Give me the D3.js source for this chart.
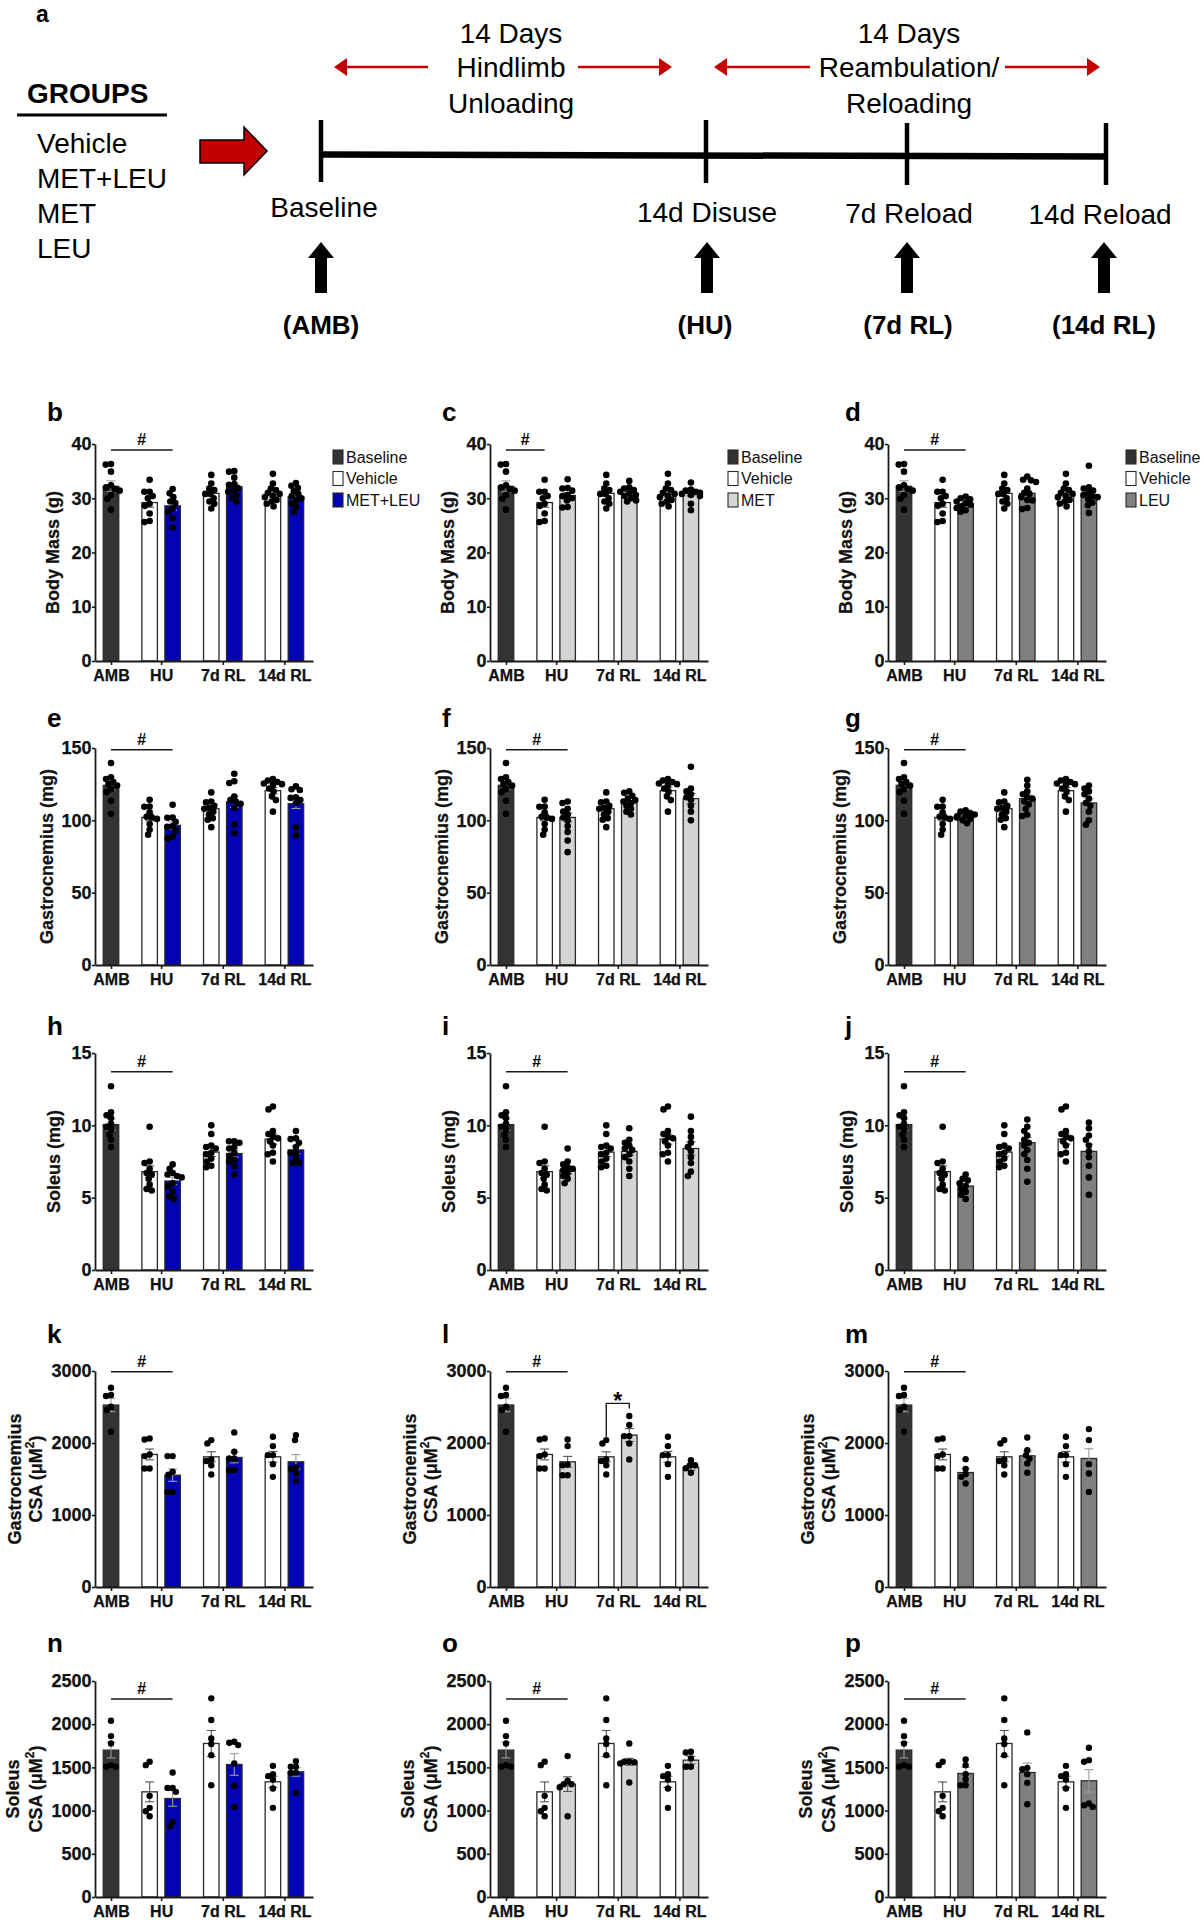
<!DOCTYPE html>
<html><head><meta charset="utf-8">
<script src="https://cdn.jsdelivr.net/npm/d3@7"></script>
<style>
body{margin:0;background:#fff}
svg{display:block}
text{font-family:"Liberation Sans",Arial,Helvetica,sans-serif}
</style>
</head><body>
<svg id="fig" width="1204" height="1920"></svg>
<script>
// ---------------- DATA ----------------
const categories = ["AMB", "HU", "7d RL", "14d RL"];
const legendLabels = [["Baseline","Vehicle","MET+LEU"],["Baseline","Vehicle","MET"],["Baseline","Vehicle","LEU"]];
const panelLetters = ["b","c","d","e","f","g","h","i","j","k","l","m","n","o","p"];
const yTicks = [[0,10,20,30,40],[0,50,100,150],[0,5,10,15],[0,1000,2000,3000],[0,500,1000,1500,2000,2500]];
const yTitles = [["Body Mass (g)"],["Gastrocnemius (mg)"],["Soleus (mg)"],["Gastrocnemius","CSA (μM|2|)"],["Soleus","CSA (μM|2|)"]];

// schematic (panel a)
const groupNames = ["Vehicle","MET+LEU","MET","LEU"];
const timepointDays = [0, 14, 21, 28];
const timepointLabels = ["Baseline","14d Disuse","7d Reload","14d Reload"];
const timepointCodes = ["(AMB)","(HU)","(7d RL)","(14d RL)"];
const phaseLabels = [["14 Days","Hindlimb","Unloading"],["14 Days","Reambulation/","Reloading"]];

// Body mass (g)
const bmBaselineMean = [32.2], bmBaselineSem = [1.0];
const bmBaselineDots = [[36.3,36.2,34.9,32.4,32.0,31.7,31.4,30.6,29.9,27.9]];
const bmVehicleMean = [29.2,30.9,30.7], bmVehicleSem = [0.85,0.5,0.45];
const bmVehicleDots = [[33.4,31.2,31.2,30.4,30.0,29.0,28.6,27.2,25.8,25.6],[34.3,32.7,31.8,31.5,30.8,30.8,30.0,29.4,29.0,28.1],[34.5,32.7,31.8,31.5,31.0,30.8,30.4,30.2,29.7,29.4,29.0,28.5]];
const bmMetLeuMean = [28.6,32.1,30.3], bmMetLeuSem = [0.8,0.55,0.55];
const bmMetLeuDots = [[31.7,30.9,30.2,29.4,29.1,28.1,27.5,26.3,24.6],[35.0,34.9,33.8,32.6,32.5,31.9,31.4,31.2,30.6,30.0,29.4],[32.8,32.3,31.9,31.3,30.8,30.4,30.0,29.6,29.0,28.4,27.5]];
const bmMetMean = [30.5,30.9,30.9], bmMetSem = [0.5,0.35,0.45];
const bmMetDots = [[33.5,31.9,31.8,31.4,30.6,30.4,30.0,29.6,28.4,28.3],[33.2,32.0,31.8,31.5,31.2,30.9,30.6,30.4,30.0,29.6,29.4],[32.9,31.6,31.4,31.2,31.0,30.8,30.6,30.4,29.0,27.8]];
const bmLeuMean = [28.9,30.9,30.6], bmLeuSem = [0.3,0.55,0.45];
const bmLeuDots = [[30.3,30.0,29.8,29.4,29.1,28.8,28.5,28.2,27.8,27.5],[34.0,33.4,33.3,33.0,31.8,31.0,30.8,30.2,29.7,29.6,28.2,28.0],[36.0,32.0,31.8,31.4,31.0,30.6,30.4,30.2,29.8,29.2,28.7,27.3]];

// Gastrocnemius (mg)
const gmBaselineMean = [124.2], gmBaselineSem = [3.0];
const gmBaselineDots = [[139.6,129.8,128.5,126.5,125.0,124.0,121.5,119.5,113.5,104.5]];
const gmVehicleMean = [102,108,120.5], gmVehicleSem = [2.3,2.0,2.3];
const gmVehicleDots = [[114.2,109.6,109.4,105.5,102.5,102.0,101.0,97.5,93.5,90.0],[119.3,113.0,112.4,110.0,108.5,108.0,106.0,104.0,101.5,100.4,95.3],[128.5,127.5,126.5,125.5,125.0,124.5,122.0,120.0,116.5,114.0,106.0]];
const gmMetLeuMean = [96.5,112.8,111.5], gmMetLeuSem = [2.5,3.8,3.3];
const gmMetLeuDots = [[110.8,102.0,101.8,99.0,96.0,95.5,93.0,88.8,87.5],[132.2,127.0,125.8,116.5,114.0,113.0,111.5,108.5,97.0,91.2],[123.5,121.5,121.0,116.0,115.5,114.0,112.0,95.0,89.5]];
const gmMetMean = [102,112,115], gmMetSem = [3.0,1.5,3.5];
const gmMetDots = [[113,112,108,106,104,102,100,96,92,86,78],[120,119,117,115,114,113,112,110,108,106,104],[137,122,120,118,116,114,110,106,100]];
const gmLeuMean = [103,115,112], gmLeuSem = [1.0,2.5,3.0];
const gmLeuDots = [[107,106,105,104,103,103,102,101,100,98],[128,124,120,118,116,115,113,111,108,104,103],[124,122,120,118,115,112,110,106,100,97]];

// Soleus (mg)
const smBaselineMean = [10.05], smBaselineSem = [0.4];
const smBaselineDots = [[12.7,10.9,10.7,10.5,10.1,9.9,9.7,9.35,9.0,8.5]];
const smVehicleMean = [6.8,8.15,9.05], smVehicleSem = [0.4,0.3,0.35];
const smVehicleDots = [[9.9,7.5,7.4,7.0,6.7,6.6,6.3,5.9,5.6,5.5],[10.0,9.4,8.6,8.5,8.4,8.1,8.0,7.7,7.5,7.2,7.1],[11.3,11.1,9.6,9.4,9.2,9.1,8.9,8.6,8.1,8.0,7.5]];
const smMetLeuMean = [6.15,8.05,8.3], smMetLeuSem = [0.25,0.25,0.25];
const smMetLeuDots = [[7.3,7.0,6.7,6.6,6.5,6.4,6.0,5.8,5.4,5.1,4.9],[8.9,8.9,8.8,8.5,8.4,8.1,7.9,7.6,7.5,7.15,6.6],[9.6,9.1,9.05,8.8,8.5,8.1,8.1,7.7,7.4,7.4]];
const smMetMean = [6.9,8.2,8.4], smMetSem = [0.25,0.3,0.45];
const smMetDots = [[8.4,7.5,7.3,7.1,7.0,6.9,6.7,6.5,6.3,6.0],[9.8,9.0,8.8,8.6,8.4,8.3,8.0,7.8,7.5,7.0,6.5],[10.6,9.6,9.2,8.8,8.5,8.2,7.8,7.4,6.8,6.5]];
const smLeuMean = [5.8,8.8,8.2], smLeuSem = [0.2,0.35,0.5];
const smLeuDots = [[6.6,6.3,6.2,6.0,5.8,5.6,5.4,5.2,4.9],[10.4,9.9,9.6,9.3,9.0,8.8,8.6,8.3,8.0,7.6,7.0,6.1],[10.2,9.8,9.3,9.0,8.6,8.2,7.8,7.2,6.4,5.2]];

// Gastrocnemius CSA (μM²)
const gcBaselineMean = [2527], gcBaselineSem = [93];
const gcBaselineDots = [[2768,2666,2652,2504,2460,2156]];
const gcVehicleMean = [1841,1808,1808], gcVehicleSem = [75,70,75];
const gcVehicleDots = [[2063,2049,1818,1840,1646,1646],[2040,1994,1771,1750,1692,1563],[2087,1957,1832,1832,1706,1530]];
const gcMetLeuMean = [1553,1799,1739], gcMetLeuSem = [85,75,100];
const gcMetLeuDots = [[1818,1818,1600,1560,1321,1321],[2147,1878,1785,1785,1623,1623],[2110,2040,1660,1640,1576,1474]];
const gcMetMean = [1739,2110,1660], gcMetSem = [75,90,40];
const gcMetDots = [[2049,1957,1700,1690,1553,1553],[2374,2249,2096,2096,1994,1771],[1762,1692,1692,1650,1586]];
const gcLeuMean = [1590,1822,1785], gcLeuSem = [60,65,135];
const gcLeuDots = [[1776,1640,1567,1530,1437],[2077,1901,1832,1780,1716,1586],[2193,2040,1706,1576,1321]];

// Soleus CSA (μM²)
const scBaselineMean = [1700], scBaselineSem = [90];
const scBaselineDots = [[2040,1862,1777,1526,1507,1507]];
const scVehicleMean = [1217,1777,1333], scVehicleSem = [115,150,65];
const scVehicleDots = [[1565,1526,1171,1032,993,935],[2299,2048,1835,1770,1642,1294],[1518,1422,1399,1360,1256,1032]];
const scMetLeuMean = [1140,1534,1449], scMetLeuSem = [90,125,50];
const scMetLeuDots = [[1441,1263,1263,1217,869,819],[1797,1785,1758,1545,1287,1043],[1573,1507,1507,1437,1440,1205]];
const scMetMean = [1306,1565,1584], scMetSem = [85,40,45];
const scMetDots = [[1631,1345,1306,1306,1270,935],[1777,1565,1565,1560,1545,1325],[1681,1673,1603,1507,1507]];
const scLeuMean = [1430,1441,1345], scLeuSem = [70,110,130];
const scLeuDots = [[1592,1526,1420,1360,1294,1294],[1905,1495,1480,1422,1321,1074],[1727,1584,1565,1082,1062,1043]];

// significance markers
const hashLevel = [38.9, 148.8, 13.7, 2991, 2291];
const hashEndBar = [2,1,2, 2,2,2, 2,2,2, 2,2,2, 2,2,2];
const starBracket = [2550, 2087, 2480];

// ---------------- BUILD ----------------
const measures = [
  {base:[bmBaselineMean,bmBaselineSem,bmBaselineDots], veh:[bmVehicleMean,bmVehicleSem,bmVehicleDots],
   trt:[[bmMetLeuMean,bmMetLeuSem,bmMetLeuDots],[bmMetMean,bmMetSem,bmMetDots],[bmLeuMean,bmLeuSem,bmLeuDots]]},
  {base:[gmBaselineMean,gmBaselineSem,gmBaselineDots], veh:[gmVehicleMean,gmVehicleSem,gmVehicleDots],
   trt:[[gmMetLeuMean,gmMetLeuSem,gmMetLeuDots],[gmMetMean,gmMetSem,gmMetDots],[gmLeuMean,gmLeuSem,gmLeuDots]]},
  {base:[smBaselineMean,smBaselineSem,smBaselineDots], veh:[smVehicleMean,smVehicleSem,smVehicleDots],
   trt:[[smMetLeuMean,smMetLeuSem,smMetLeuDots],[smMetMean,smMetSem,smMetDots],[smLeuMean,smLeuSem,smLeuDots]]},
  {base:[gcBaselineMean,gcBaselineSem,gcBaselineDots], veh:[gcVehicleMean,gcVehicleSem,gcVehicleDots],
   trt:[[gcMetLeuMean,gcMetLeuSem,gcMetLeuDots],[gcMetMean,gcMetSem,gcMetDots],[gcLeuMean,gcLeuSem,gcLeuDots]]},
  {base:[scBaselineMean,scBaselineSem,scBaselineDots], veh:[scVehicleMean,scVehicleSem,scVehicleDots],
   trt:[[scMetLeuMean,scMetLeuSem,scMetLeuDots],[scMetMean,scMetSem,scMetDots],[scLeuMean,scLeuSem,scLeuDots]]}
];

const COLORS = {base:"#333333", veh:"#ffffff", trt:["#0303b3","#d4d4d4","#808080"]};
const svg = d3.select("#fig");

// ---------------- PANEL A ----------------
(function(){
  const g = svg.append("g");
  g.append("text").attr("x",36).attr("y",22).attr("font-size",23).attr("font-weight","bold").text("a");
  g.append("text").attr("x",27).attr("y",103).attr("font-size",28).attr("font-weight","bold").text("GROUPS");
  g.append("line").attr("x1",17).attr("x2",167).attr("y1",115).attr("y2",115).attr("stroke","#000").attr("stroke-width",3);
  g.selectAll("text.grp").data(groupNames).join("text").attr("class","grp")
    .attr("x",37).attr("y",(d,i)=>153+i*35).attr("font-size",28).text(d=>d);
  g.append("polygon").attr("points","200,140 244,140 244,127 267,151 244,175 244,163 200,163")
    .attr("fill","#c00000").attr("stroke","#000").attr("stroke-width",1.5);

  const t = d3.scaleLinear().domain(timepointDays).range([321,706,907,1106]);
  g.append("line").attr("x1",t(0)).attr("x2",t(28)).attr("y1",154.5).attr("y2",156.5)
    .attr("stroke","#000").attr("stroke-width",6.5);
  const tickTop = [120,120,123,123], tickBot = [182,183,185,185];
  timepointDays.forEach((d,i)=>{
    g.append("line").attr("x1",t(d)).attr("x2",t(d)).attr("y1",tickTop[i]).attr("y2",tickBot[i])
      .attr("stroke","#000").attr("stroke-width",4.5);
  });
  const labDx = [3,1,2,-6], labY = [217,222,223,224];
  g.selectAll("text.tp").data(timepointLabels).join("text").attr("class","tp")
    .attr("x",(d,i)=>t(timepointDays[i])+labDx[i]).attr("y",(d,i)=>labY[i])
    .attr("text-anchor","middle").attr("font-size",28).text(d=>d);
  timepointDays.forEach((d,i)=>{
    const cx = t(d) + [0,1,0,-2][i];
    g.append("polygon").attr("points",
      `${cx},242 ${cx+13},258 ${cx+6},258 ${cx+6},293 ${cx-6},293 ${cx-6},258 ${cx-13},258`)
      .attr("fill","#000");
  });
  g.selectAll("text.code").data(timepointCodes).join("text").attr("class","code")
    .attr("x",(d,i)=>t(timepointDays[i]) + [0,-1,1,-2][i]).attr("y",334)
    .attr("text-anchor","middle").attr("font-size",26).attr("font-weight","bold").text(d=>d);
  const phases = [{cx:511, l1:334, l2:428, r1:578, r2:672},{cx:909, l1:714, l2:810, r1:1005, r2:1100}];
  phases.forEach((p,i)=>{
    phaseLabels[i].forEach((s,j)=>{
      g.append("text").attr("x",p.cx).attr("y",[43,77,113][j]).attr("text-anchor","middle")
        .attr("font-size",28).text(s);
    });
    const red = "#c40000", yy = 67;
    g.append("line").attr("x1",p.l1+10).attr("x2",p.l2).attr("y1",yy).attr("y2",yy).attr("stroke",red).attr("stroke-width",2.6);
    g.append("line").attr("x1",p.r1).attr("x2",p.r2-10).attr("y1",yy).attr("y2",yy).attr("stroke",red).attr("stroke-width",2.6);
    g.append("polygon").attr("points",`${p.l1},${yy} ${p.l1+13},${yy-9} ${p.l1+13},${yy+9}`).attr("fill",red);
    g.append("polygon").attr("points",`${p.r2},${yy} ${p.r2-13},${yy-9} ${p.r2-13},${yy+9}`).attr("fill",red);
  });
})();

// ---------------- BAR PANELS ----------------
const colAxisX = [95, 490, 888];
const rowTop = [444, 748, 1053, 1371, 1681];
const rowBottom = [661, 965, 1270, 1587, 1897];
const rowYmax = [40, 150, 15, 3000, 2500];
const rowLetterY = [421, 727, 1035, 1343, 1652];
const rowTitleDx = [[-42],[-48],[-41],[-80,-59],[-82,-59]];
const PLOT_W = 218;

function swarm(vals, y, r){
  const pts = vals.map(v=>({v, y:y(v)})).sort((a,b)=>a.y-b.y);
  const placed = [];
  const d = 2*r*0.8;
  for (const p of pts){
    const blocks = [];
    for (const q of placed){
      const dy = Math.abs(q.y-p.y);
      if (dy < d){ const w = Math.sqrt(d*d-dy*dy); blocks.push([q.x-w,q.x+w]); }
    }
    const cands = [0];
    blocks.forEach(b=>cands.push(b[0],b[1]));
    cands.sort((a,b)=>Math.abs(a)-Math.abs(b) || a-b);
    let xx = 0;
    for (const c of cands){
      if (blocks.every(b=> c<=b[0]+1e-6 || c>=b[1]-1e-6)){ xx=c; break; }
    }
    p.x = Math.max(-9, Math.min(9, xx)); placed.push(p);
  }
  return pts;
}

function addTitle(g, text, x, y){
  const t = g.append("text").attr("transform",`translate(${x},${y}) rotate(-90)`)
    .attr("text-anchor","middle").attr("dominant-baseline","central")
    .attr("font-size",18).attr("font-weight","bold").attr("fill","#111")
    .attr("stroke","#111").attr("stroke-width",0.25);
  const parts = text.split("|");
  t.append("tspan").text(parts[0]);
  if (parts.length>1){
    t.append("tspan").attr("font-size",12).attr("dy",-6).text(parts[1]);
    t.append("tspan").attr("dy",6).text(parts[2]);
  }
}

measures.forEach((m, ri)=>{
  [0,1,2].forEach(ci=>{
    const pi = ri*3+ci;
    const ax = colAxisX[ci];
    const g = svg.append("g").attr("transform",`translate(${ax},0)`);
    const y = d3.scaleLinear().domain([0,rowYmax[ri]]).range([rowBottom[ri],rowTop[ri]]);
    const x = d3.scaleLinear().domain([-16/23,(PLOT_W-16)/23]).range([0,PLOT_W]);
    const tr = m.trt[ci];
    const bars = [{slot:0, mean:m.base[0][0], sem:m.base[1][0], dots:m.base[2][0], fill:COLORS.base, dark:true}];
    for (let i=0;i<3;i++){
      bars.push({slot:1+2*i+0.68*(i+1), mean:m.veh[0][i], sem:m.veh[1][i], dots:m.veh[2][i], fill:COLORS.veh, dark:false});
      bars.push({slot:2+2*i+0.68*(i+1), mean:tr[0][i], sem:tr[1][i], dots:tr[2][i], fill:COLORS.trt[ci], dark:ci!==1});
    }
    const bw = 15.5, r = ri<3 ? 3.3 : 3.2;
    g.selectAll("rect.bar").data(bars).join("rect").attr("class","bar")
      .attr("x",d=>x(d.slot)-bw/2).attr("width",bw)
      .attr("y",d=>y(d.mean)).attr("height",d=>y(0)-y(d.mean))
      .attr("fill",d=>d.fill).attr("stroke","#2a2a2a").attr("stroke-width",1.3);
    bars.forEach(d=>{
      const col = d.dark ? "#9a9a9a" : "#555";
      const cx = x(d.slot);
      g.append("line").attr("x1",cx).attr("x2",cx).attr("y1",y(d.mean-d.sem)).attr("y2",y(d.mean+d.sem))
        .attr("stroke",col).attr("stroke-width",1.1);
      [d.mean-d.sem, d.mean+d.sem].forEach(v=>{
        g.append("line").attr("x1",cx-4.5).attr("x2",cx+4.5).attr("y1",y(v)).attr("y2",y(v))
          .attr("stroke",col).attr("stroke-width",1.1);
      });
    });
    bars.forEach(d=>{
      const pts = swarm(d.dots, y, r);
      g.selectAll(null).data(pts).join("circle")
        .attr("cx",p=>x(d.slot)+p.x).attr("cy",p=>p.y).attr("r",r).attr("fill","#000");
    });
    const yAxis = g.append("g").call(d3.axisLeft(y).tickValues(yTicks[ri]).tickFormat(d3.format("d"))
      .tickSize(3).tickSizeOuter(0).tickPadding(0.5));
    const xAxis = g.append("g").attr("transform",`translate(0,${y(0)})`)
      .call(d3.axisBottom(x).tickValues([0,2.18,4.86,7.54]).tickFormat((d,i)=>categories[i])
        .tickSize(4).tickSizeOuter(0).tickPadding(5));
    [yAxis,xAxis].forEach(a=>{
      a.attr("font-family",null).attr("font-size",null);
      a.select(".domain").attr("stroke","#1a1a1a").attr("stroke-width",1.8);
      a.selectAll(".tick line").attr("stroke","#1a1a1a").attr("stroke-width",1.6);
      a.selectAll("text").attr("font-weight","bold").attr("fill","#111")
        .attr("stroke","#111").attr("stroke-width",0.25);
    });
    yAxis.selectAll("text").attr("font-size",18);
    xAxis.selectAll("text").attr("font-size",16);
    const midY = (rowTop[ri]+rowBottom[ri])/2;
    yTitles[ri].forEach((t,k)=> addTitle(g, t, rowTitleDx[ri][k], midY));
    g.append("text").attr("x", ci===2 ? -43 : -48).attr("y", rowLetterY[ri])
      .attr("font-size",26).attr("font-weight","bold").text(panelLetters[pi]);
    const hy = y(hashLevel[ri]);
    const hx1 = x(bars[0].slot), hx2 = x(bars[hashEndBar[pi]].slot);
    g.append("line").attr("x1",hx1).attr("x2",hx2).attr("y1",hy).attr("y2",hy).attr("stroke","#1a1a1a").attr("stroke-width",1.5);
    g.append("text").attr("x",(hx1+hx2)/2).attr("y",hy-5).attr("text-anchor","middle")
      .attr("font-size",16).attr("font-weight","bold").text("#");
    if (pi===10){
      const bx1 = x(bars[3].slot), bx2 = x(bars[4].slot);
      const by = y(starBracket[0]);
      g.append("path").attr("d",`M${bx1},${y(starBracket[1])}V${by}H${bx2}V${y(starBracket[2])}`)
        .attr("fill","none").attr("stroke","#1a1a1a").attr("stroke-width",1.4);
      g.append("text").attr("x",(bx1+bx2)/2).attr("y",by+6).attr("text-anchor","middle")
        .attr("font-size",23).attr("font-weight","bold").text("*");
    }
    if (ri===0){
      const fills = [COLORS.base, COLORS.veh, COLORS.trt[ci]];
      legendLabels[ci].forEach((lab,k)=>{
        const cy = 457 + k*21.5;
        g.append("rect").attr("x",238).attr("y",cy-7).attr("width",10).attr("height",14)
          .attr("fill",fills[k]).attr("stroke","#2a2a2a").attr("stroke-width",1.1);
        g.append("text").attr("x",251).attr("y",cy).attr("dominant-baseline","central")
          .attr("font-size",16).attr("fill","#111").text(lab);
      });
    }
  });
});
</script>
</body></html>
